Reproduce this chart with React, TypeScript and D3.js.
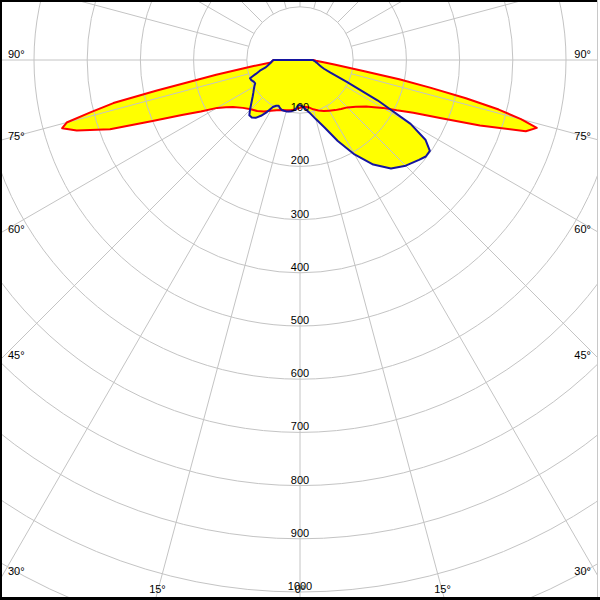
import React from "react";
import * as d3 from "d3";

// ---- data (cd per 1000 lm), gamma angles in degrees ----
const ringValues = [100, 200, 300, 400, 500, 600, 700, 800, 900, 1000];
const extraRings = [1100, 1200];
const gridAngles = d3.range(0, 360, 15);
const angleLabels = [90, 75, 60, 45, 30, 15, 0];

// C0 plane (red, right half)
const redC0Angles = [0, 5, 10, 15, 20, 25, 30, 35, 40, 45, 50, 55, 57.5, 60, 62.5, 65, 67.5, 70, 72.5, 74, 75, 76, 77, 78, 79, 80, 82.5, 85, 87.5, 90];
const redC0Values = [90, 88, 90, 96, 101, 106, 110, 115, 120, 126, 137, 152, 165, 180, 205, 235, 285, 360, 445, 463, 430, 385, 320, 250, 190, 125, 65, 42, 30, 25];
// C180 plane (red, left half)
const redC180Angles = [0, 5, 10, 15, 20, 25, 30, 35, 40, 45, 50, 55, 57.5, 60, 62.5, 65, 67.5, 70, 72.5, 74, 75, 76, 77, 78, 79, 80, 82.5, 85, 87.5, 90];
const redC180Values = [90, 93, 96, 98, 100, 104, 110, 118, 125, 131, 140, 154, 165, 180, 210, 245, 300, 380, 440, 465, 454, 405, 360, 275, 200, 160, 90, 55, 52, 50];
// C90 plane (blue, right half)
const blueC90Angles = [0, 5, 10, 15, 20, 25, 30, 35, 40, 45, 50, 52.5, 55, 57.5, 60, 62.5, 65, 67.5, 70, 72.5, 75, 77.5, 80, 82.5, 85, 87.5, 90];
const blueC90Values = [85, 90, 100, 115, 135, 168, 205, 240, 266, 281, 292, 298, 298, 280, 240, 165, 97, 62, 48, 42, 38, 35, 33, 30, 28, 26, 24];
// C270 plane (blue, left half)
const blueC270Angles = [0, 2.5, 5, 7.5, 10, 12.5, 15, 17.5, 20, 22.5, 25, 27.5, 30, 32.5, 35, 37.5, 40, 42.5, 45, 47.5, 50, 52.5, 55, 57.5, 60, 62.5, 65, 67.5, 70, 72.5, 75, 77.5, 80, 82.5, 85, 87.5, 90];
const blueC270Values = [85, 85, 93, 96, 98, 99, 100, 100, 100, 98, 95, 97, 102, 116, 128, 137, 141, 141, 133, 125, 118, 112, 107, 103, 99, 95, 96, 99, 100, 87, 78, 67, 62, 58, 55, 53, 50];

const W = 600;
const H = 600;
const CX = 300;
const CY = 60;
const rScale = d3.scaleLinear().domain([0, 1000]).range([0, 532]);
const rad = (deg: number) => (deg * Math.PI) / 180;

type P = [number, number]; // [angle rad (d3 radial), radius px]

function buildPoints(rightA: number[], rightV: number[], leftA: number[], leftV: number[]): P[] {
  const pts: P[] = [];
  rightA.forEach((g, i) => pts.push([Math.PI - rad(g), rScale(rightV[i])]));
  pts.push([0, 0]);
  for (let i = leftA.length - 1; i >= 0; i--) {
    pts.push([Math.PI + rad(leftA[i]), rScale(leftV[i])]);
  }
  return pts;
}

const radial = d3
  .lineRadial<P>()
  .angle((d) => d[0])
  .radius((d) => d[1])
  .curve(d3.curveLinearClosed);

const redPath = radial(buildPoints(redC0Angles, redC0Values, redC180Angles, redC180Values)) || "";
const bluePath = radial(buildPoints(blueC90Angles, blueC90Values, blueC270Angles, blueC270Values)) || "";

const FONT = "'Liberation Sans', Arial, sans-serif";
const GRID = "#c4c4c4";

function angleLabelPos(g: number, side: number) {
  const s = Math.sin(rad(g));
  const c = Math.cos(rad(g));
  const inset = 8;
  const tSide = s > 1e-6 ? (CX - inset) / s : Infinity;
  const yHit = CY + tSide * c;
  if (yHit <= H - 8) {
    return {
      x: side < 0 ? inset : W - 9,
      y: yHit - 2 + 13 * c,
      anchor: side < 0 ? "start" : "end",
    };
  }
  const t = (H - 8 - CY) / c;
  return { x: CX + side * t * s, y: 593, anchor: "middle" };
}

export default function App() {
  const maxR = 800;
  const innerR = rScale(100);
  const labels: { key: string; x: number; y: number; anchor: string; text: string }[] = [];
  angleLabels.forEach((g) => {
    if (g === 0) {
      const p = angleLabelPos(0.0001, 1);
      labels.push({ key: "a0", x: CX, y: p.y, anchor: "middle", text: "0°" });
    } else {
      [-1, 1].forEach((side) => {
        const p = angleLabelPos(g, side);
        labels.push({ key: `a${g}_${side}`, x: p.x, y: p.y, anchor: p.anchor, text: `${g}°` });
      });
    }
  });

  return (
    <svg
      width={W}
      height={H}
      style={{ position: "absolute", left: 0, top: 0, background: "#fff" }}
    >
      <rect x={0} y={0} width={W} height={H} fill="#ffffff" />
      <g transform={`translate(${CX},${CY})`}>
        {/* fills */}
        <path d={redPath} fill="#ffff00" stroke="none" />
        <path d={bluePath} fill="#ffff00" stroke="none" />
        {/* grid */}
        {[...ringValues, ...extraRings].map((v) => (
          <circle key={`r${v}`} r={rScale(v)} fill="none" stroke={GRID} strokeWidth={1} />
        ))}
        {gridAngles.map((a) => {
          const s = Math.sin(rad(a));
          const c = Math.cos(rad(a));
          return (
            <line
              key={`l${a}`}
              x1={innerR * s}
              y1={innerR * c}
              x2={maxR * s}
              y2={maxR * c}
              stroke={GRID}
              strokeWidth={1}
            />
          );
        })}
        {/* curves */}
        <path d={redPath} fill="none" stroke="#ff0000" strokeWidth={2} strokeLinejoin="round" />
        <path d={bluePath} fill="none" stroke="#1414a0" strokeWidth={2} strokeLinejoin="round" />
        {/* ring labels */}
        {ringValues.map((v) => (
          <text
            key={`t${v}`}
            x={0}
            y={rScale(v) - 2}
            textAnchor="middle"
            fontFamily={FONT}
            fontSize={11}
            fill="#000"
          >
            {v}
          </text>
        ))}
      </g>
      {labels.map((l) => (
        <text
          key={l.key}
          x={l.x}
          y={l.y}
          textAnchor={l.anchor as any}
          fontFamily={FONT}
          fontSize={11}
          fill="#000"
        >
          {l.text}
        </text>
      ))}
      {/* frame */}
      <rect x={0} y={0} width={W} height={2} fill="#000" />
      <rect x={0} y={0} width={2} height={H} fill="#000" />
      <rect x={0} y={H - 3} width={W} height={3} fill="#000" />
      <rect x={W - 3} y={0} width={1} height={H - 3} fill="#c8c8c8" />
      <rect x={W - 2} y={0} width={2} height={H - 3} fill="#ffffff" />
    </svg>
  );
}
